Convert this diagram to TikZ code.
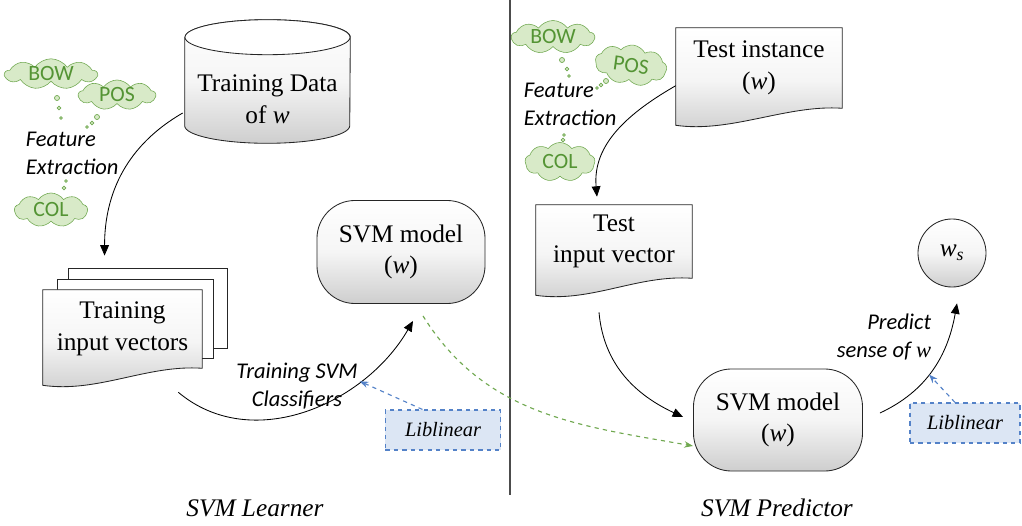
\documentclass[tikz,border=0pt]{standalone}
\usepackage{fontspec}
\setmainfont{Liberation Serif}
\newfontfamily\carlito{Carlito}
\usepackage{tikz}
\usetikzlibrary{arrows.meta}
\usetikzlibrary{calc,backgrounds}
\usetikzlibrary{shapes.symbols}

\definecolor{cloudfill}{RGB}{216,234,200}
\definecolor{clouddraw}{RGB}{112,168,80}
\definecolor{cloudtext}{RGB}{84,148,52}
\definecolor{libfill}{RGB}{220,230,244}
\definecolor{libdraw}{RGB}{84,130,200}
\definecolor{shadebot}{RGB}{206,206,206}
\definecolor{shademid}{RGB}{245,245,245}

\begin{document}
\begin{tikzpicture}[x=0.025cm, y=-0.025cm,
        shaded/.style={top color=white, bottom color=shadebot, middle color=shademid, draw=black!85, line width=0.6pt},
        bigtxt/.style={font=\fontsize{18}{22.5}\selectfont, align=center},
        doc/.style={bigtxt, inner sep=0pt},
        page/.style={draw=black!85, fill=white, line width=0.6pt, inner sep=0pt},
        thought/.style={cloud, cloud puffs=9, cloud puff arc=110, cloud ignores aspect, draw=clouddraw, fill=cloudfill,
            text=cloudtext, inner sep=0pt, font=\carlito\fontsize{15.5}{18}\selectfont},
        bubble/.style={draw=clouddraw, fill=cloudfill, line width=0.5pt},
        note/.style={font=\carlito\itshape\fontsize{16}{20}\selectfont},
        lib/.style={draw=libdraw, fill=libfill, dashed, thick, inner sep=0pt, font=\itshape\fontsize{14.5}{17}\selectfont},
        model/.style={rectangle, rounded corners=0.95cm, shaded, bigtxt, inner sep=0pt},
        flow/.style={-{Triangle[length=0.26cm,width=0.22cm]}, line width=0.6pt},
        use/.style={-{Stealth[length=0.22cm,width=0.16cm]}, dashed, libdraw, thick},
        pass/.style={-{Stealth[length=0.22cm,width=0.16cm]}, dashed, clouddraw, thick}]

        \useasboundingbox (0,0) rectangle (1022,526);

        \node[bigtxt, minimum width=4.125cm, minimum height=2.2cm, inner sep=0pt] (train) at (267.5,99) {Training Data\\of \textit{w}};

        \node[thought, minimum width=2.3cm, minimum height=0.7cm] (bowA) at (51,74) {BOW};
        \node[thought, minimum width=1.925cm, minimum height=0.75cm] (posA) at (117,95) {POS};
        \node[thought, minimum width=1.825cm, minimum height=0.85cm] (colA) at (51,210) {COL};
        \node[note, align=left, anchor=west] (featA) at (21,153) {Feature\\Extraction};

        \node[doc, minimum width=3.975cm, minimum height=1.95cm] (tiv) at (122.5,329) {Training\\input vectors};
        \node[model, minimum width=4.2cm, minimum height=2.575cm] (modelA) at (401,252) {SVM model\\(\textit{w})};
        \node[lib, minimum width=2.875cm, minimum height=1cm] (libA) at (443,430) {Liblinear};
        \node[note, align=center] (trainlbl) at (297,386) {Training SVM\\Classifiers};
        \node[font=\itshape\fontsize{18}{22}\selectfont] (learner) at (255,508) {SVM Learner};

        \node[thought, minimum width=2.075cm, minimum height=0.825cm] (bowB) at (553,37) {BOW};
        \node[thought, minimum width=1.8cm, minimum height=1cm, rotate=-8] (posB) at (631,65) {POS};
        \node[thought, minimum width=1.75cm, minimum height=0.975cm] (colB) at (560,162) {COL};
        \node[note, align=left, anchor=west] (featB) at (519,104) {Feature\\Extraction};

        \node[doc, minimum width=4.15cm, minimum height=2cm] (tinst) at (759,68) {Test instance\\(\textit{w})};
        \node[doc, minimum width=3.9cm, minimum height=1.825cm] (tvec) at (614,241.5) {Test\\input vector};
        \node[model, minimum width=4.225cm, minimum height=2.55cm] (modelB) at (778,420) {SVM model\\(\textit{w})};
        \node[circle, shaded, bigtxt, minimum size=1.7cm, inner sep=0pt] (ws) at (952,253) {\textit{w}\textsubscript{\textit{s}}};
        \node[lib, minimum width=2.75cm, minimum height=1cm] (libB) at (965,423) {Liblinear};
        \node[note, align=right, anchor=east] (predlbl) at (936,337) {Predict\\sense of {\rmfamily\itshape w}};
        \node[font=\itshape\fontsize{18}{22}\selectfont] (predictor) at (777,508) {SVM Predictor};

        \begin{pgfonlayer}{background}
            \path[shaded] ($(train.north west)+(0,-17.5)$) -- ($(train.south west)+(0,-17.5)$)
                arc[start angle=180, end angle=360, x radius=2.0625cm, y radius=0.4375cm]
                -- ($(train.north east)+(0,-17.5)$)
                arc[start angle=0, end angle=180, x radius=2.0625cm, y radius=0.4375cm] -- cycle;
            \filldraw[fill=white, draw=black!85, line width=0.6pt] ($(train.north)+(0,-17.5)$) ellipse [x radius=2.0625cm, y radius=0.4375cm];
            \node[page, minimum width=3.975cm, minimum height=2cm] (p1) at (147.5,308) {};
            \node[page, minimum width=3.9cm, minimum height=1.975cm] (p2) at (135,318.5) {};
            \foreach \d in {tiv,tinst,tvec}
                \path[shaded] (\d.north west) -- (\d.north east) -- (\d.south east)
                    .. controls +(-55,-4) and +(55,8) .. ($(\d.south west)+(0,17)$) -- cycle;
        \end{pgfonlayer}

        \foreach \x/\y/\r in {57/98/1.8pt, 59/108/1.4pt, 61/118/0.9pt, 97/117/1.8pt, 92/123/1.4pt, 87/127/1pt,
            66/181/0.9pt, 64/188/1.4pt, 562/60/1.8pt, 567/69/1.4pt, 569/76/0.9pt, 606/81/1.8pt, 601/85/1.4pt,
            597/88/1pt, 564/135/0.9pt, 563/140/1.4pt}
            \draw[bubble] (\x,\y) circle (\r);

        \draw[black!70, line width=0.8pt] (510,0) -- (510,495);

        \draw[flow] ($(train.west)+(-2,14)$) to[out=210,in=90] ($(p1.north west)+(37,-12)$);
        \draw[flow] ($(tiv.south east)+(-24,24)$) to[out=-40,in=240] coordinate[pos=0.72] (hitA) ($(modelA.south)+(12,17)$);
        \draw[use] (libA.135) -- (hitA);
        \draw[pass] ($(modelA.south)+(22,12)$) to[out=-58,in=170] (modelB.197);

        \draw[flow] (tinst.192) to[out=210,in=95] ($(tvec.north)+(-17,-8)$);
        \draw[flow] ($(tvec.south)+(-15,34)$) to[out=-85,in=155] ($(modelB.west)+(-10,-3)$);
        \draw[flow] ($(modelB.east)+(17,-7)$) to[out=25,in=-100] coordinate[pos=0.45] (hitB) ($(ws.south)+(5,16)$);
        \draw[use] ([xshift=-0.25cm]libB.north) -- (hitB);

    \end{tikzpicture}
\end{document}
